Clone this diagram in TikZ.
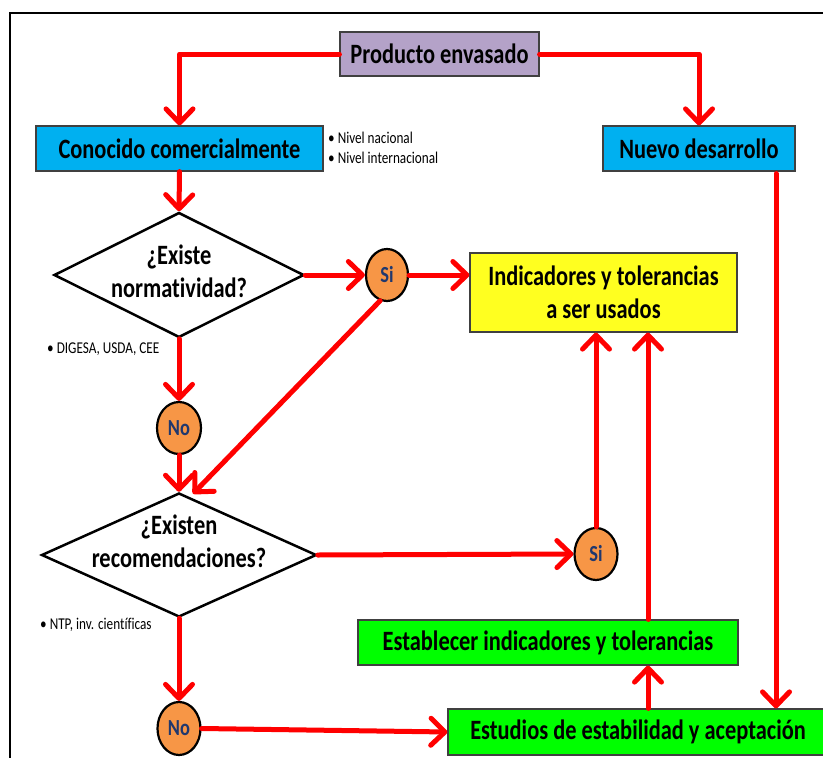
\documentclass[tikz,border=0pt]{standalone}
\usepackage{fontspec}
\setmainfont{Carlito}[FakeStretch=0.8,Ligatures=NoCommon]
\usetikzlibrary{shapes.geometric,arrows.meta,calc}
\definecolor{lav}{RGB}{180,162,200}
\definecolor{cyanb}{RGB}{0,176,240}
\definecolor{yel}{RGB}{255,255,32}
\definecolor{limeg}{RGB}{0,255,0}
\definecolor{org}{RGB}{247,150,70}
\definecolor{navyb}{RGB}{32,56,110}
\begin{document}
\begin{tikzpicture}[x=1pt,y=-1pt,
  big/.style={font=\bfseries\fontsize{28}{33}\selectfont, align=center},
  box/.style={big, draw=black!75, line width=1.2pt, inner sep=0pt},
  dia/.style={diamond, draw=black, line width=2.5pt, fill=white, inner sep=0pt},
  yn/.style={ellipse, draw=black, line width=2.2pt, fill=org, inner sep=0pt, text=navyb,
    font=\bfseries\fontsize{23}{23}\selectfont},
  arr/.style={draw=red, line width=5pt, line cap=round, line join=round,
    -{Straight Barb[length=14pt,width=27pt,round]}},
  note/.style={anchor=west, inner sep=0pt, font=\fontsize{16.5}{18}\selectfont}
]
\useasboundingbox (0,0) rectangle (823,758);
\fill[white] (0,0) rectangle (823,758);
\draw[line width=2.2pt] (10,760) -- (10,13) -- (825,13);

\begin{scope}
\clip (0,0) rectangle (823,758);
% boxes
\node[box, fill=lav, minimum width=199pt, minimum height=44pt] (prod) at (439.5,54) {Producto envasado};
\node[box, fill=cyanb, minimum width=287pt, minimum height=45pt] (conoc) at (179.5,148.5) {Conocido comercialmente};
\node[box, fill=cyanb, minimum width=192pt, minimum height=45pt] (nuevo) at (699,148.5) {Nuevo desarrollo};
\node[dia, minimum width=250pt, minimum height=125pt] (d1) at (179,275) {};
\node[big, inner sep=0pt] (d1t) at (179,271) {¿Existe\\normatividad?};
\node[yn, minimum width=42pt, minimum height=52pt] (si1) at (387,275) {Si};
\node[box, fill=yel, minimum width=267pt, minimum height=79pt] (ind) at (603.5,292.5) {Indicadores y tolerancias\\a ser usados};
\node[yn, minimum width=44pt, minimum height=52pt] (no1) at (179,428) {No};
\node[dia, minimum width=275pt, minimum height=124pt] (d2) at (179,555) {};
\node[big, inner sep=0pt] (d2t) at (179,541) {¿Existen\\recomendaciones?};
\node[yn, minimum width=43pt, minimum height=52pt] (si2) at (596,554) {Si};
\node[box, fill=limeg, minimum width=380pt, minimum height=45pt] (estab) at (548,642.5) {Establecer indicadores y tolerancias};
\node[yn, minimum width=43pt, minimum height=53pt] (no2) at (179,728.5) {No};
\node[box, fill=limeg, minimum width=380pt, minimum height=46pt] (estud) at (638,732) {Estudios de estabilidad y aceptación};

% notes
\node[note] (n1) at (328,138) {• Nivel nacional};
\node[note] (n2) at (328,158) {• Nivel internacional};
\node[note] (n3) at (47,349) {• DIGESA, USDA, CEE};
\node[note] (n4) at (40,625) {• NTP, inv. científicas};

% helper coordinates
\coordinate (d2tip) at ($(d2.north)+(14,2)$);
\coordinate (indA) at ($(ind.south)+(-7.5,0)$);
\coordinate (indB) at ($(ind.south)+(44.5,0)$);
\coordinate (estabT) at ($(estab.north)+(100,0)$);
\coordinate (estabB) at ($(estab.south)+(100,0)$);
\coordinate (estudT) at ($(estud.north)+(10,0)$);
\coordinate (estudR) at ($(estud.north)+(138,0)$);
\coordinate (nuevoB) at ($(nuevo.south)+(77,2)$);

% connectors
\draw[arr] (prod.west) -| (conoc.north);
\draw[arr] (prod.east) -| (nuevo.north);
\draw[arr] (conoc.south) -- (d1.north);
\draw[arr] (d1.east) -- (si1.west);
\draw[arr] (si1.east) -- (si1.east -| ind.west);
\draw[arr] (d1.south) -- (no1.north);
\draw[arr] (no1.south) -- (d2.north);
\draw[arr] (si1.255) -- (d2tip);
\draw[arr] (d2.east) -- (si2.west);
\draw[arr] (si2.north) -- (indA);
\draw[arr] (estabT) -- (indB);
\draw[arr] (estudT) -- (estabB);
\draw[arr] (nuevoB) -- (estudR);
\draw[arr] (d2.south) -- (no2.north);
\draw[arr] (no2.east) -- (estud.west);
\end{scope}
\end{tikzpicture}
\end{document}
